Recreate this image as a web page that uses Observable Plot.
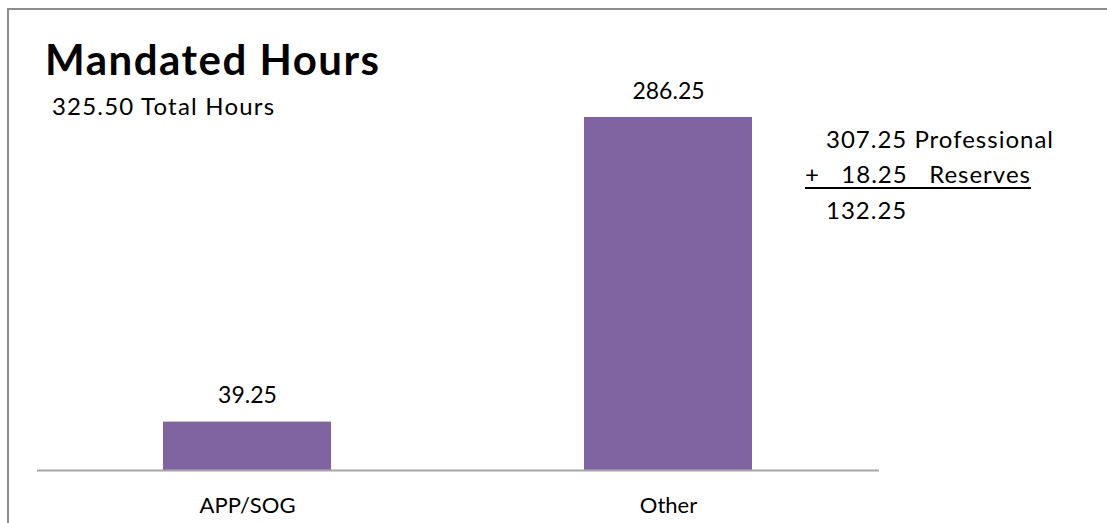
<!DOCTYPE html>
<html>
<head>
<meta charset="utf-8">
<script src="https://cdn.jsdelivr.net/npm/d3@7"></script>
<script src="https://cdn.jsdelivr.net/npm/@observablehq/plot@0.6"></script>
<style>
  html, body { margin: 0; padding: 0; background: #fff; }
  #wrap { position: relative; width: 1107px; height: 523px; overflow: hidden; font-family: Lato, sans-serif; color: #000; }
  #frame { position: absolute; left: 7px; top: 8px; width: 1300px; height: 700px; border-top: 2px solid #8c8c8c; border-left: 2px solid #8c8c8c; }
  .note { position: absolute; line-height: 1; white-space: pre; }
  #chart { position: absolute; left: 0; top: 0; }
</style>
</head>
<body>
<div id="wrap">
  <div id="frame"></div>
  <div id="chart"></div>
  <div class="note" id="title" style="left:45px; top:38px; font-size:42px; font-weight:700; letter-spacing:1.5px;"></div>
  <div class="note" id="total" style="left:52px; top:94px; font-size:24px; letter-spacing:1.2px;"></div>
  <div class="note" id="n1" style="left:826px; top:127px; font-size:24px; letter-spacing:1px;"></div>
  <div class="note" id="n2" style="left:805px; top:162px; font-size:24px; letter-spacing:1px; text-decoration: underline; text-decoration-thickness: 2px; text-underline-offset: 4px;"></div>
  <div class="note" id="n3" style="left:826px; top:198px; font-size:24px; letter-spacing:1px;"></div>
</div>
<script>
const titleText = "Mandated Hours";
const totalText = "325.50 Total Hours";
const noteLines = ["307.25 Professional", "+   18.25   Reserves", "132.25"];
const categories = ["APP/SOG", "Other"];
const hours = [39.25, 286.25];
const valueLabels = ["39.25", "286.25"];

const data = categories.map((c, i) => ({category: c, hours: hours[i], label: valueLabels[i]}));

document.getElementById("title").textContent = titleText;
document.getElementById("total").textContent = totalText;
document.getElementById("n1").textContent = noteLines[0];
document.getElementById("n2").textContent = noteLines[1];
document.getElementById("n3").textContent = noteLines[2];

const chart = Plot.plot({
  width: 1107,
  height: 523,
  marginLeft: 37,
  marginRight: 228,
  marginTop: 100,
  marginBottom: 53,
  style: {fontFamily: "Lato, sans-serif", fontSize: "22px", color: "#000", background: "transparent"},
  x: {domain: categories, paddingInner: 0.6, paddingOuter: 0.3, label: null},
  y: {domain: [0, 300], axis: null},
  marks: [
    Plot.barY(data, {x: "category", y: "hours", fill: "#8064A2"}),
    Plot.ruleY([0], {stroke: "#a6a6a6", strokeWidth: 2}),
    Plot.text(data, {x: "category", y: "hours", text: "label", dy: -26, fontSize: 23, fill: "#000"}),
    Plot.axisX({tickSize: 0, tickPadding: 27, fontSize: 22, label: null})
  ]
});
document.getElementById("chart").appendChild(chart);
</script>
</body>
</html>
